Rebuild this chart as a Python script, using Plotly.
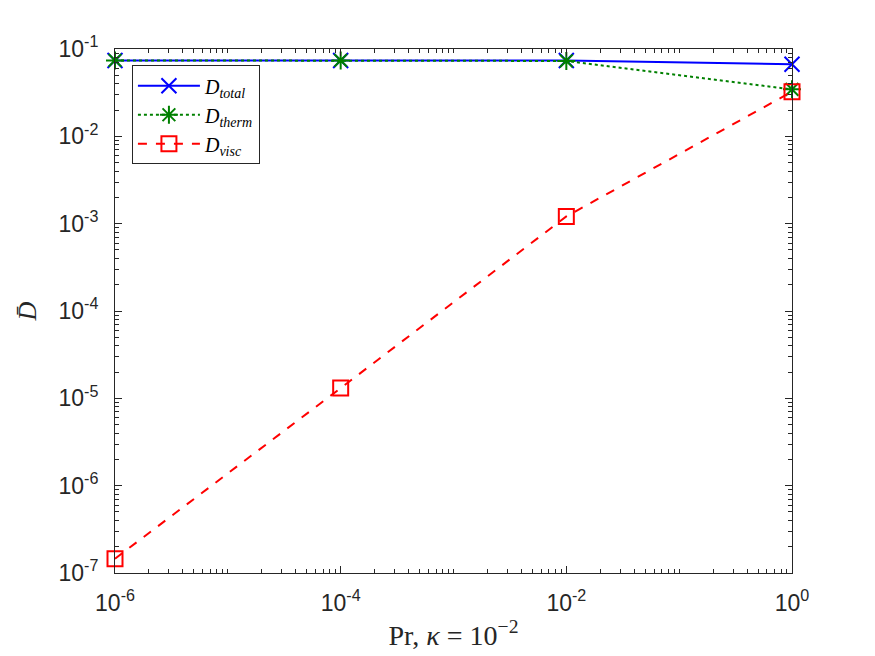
import plotly.graph_objects as go

# Pr values (kappa = 1e-2)
pr = [1e-6, 1e-4, 1e-2, 1e0]

# dissipation
d_total = [0.074, 0.074, 0.074, 0.067]
d_therm = [0.074, 0.074, 0.073, 0.0345]
d_visc = [1.46e-7, 1.31e-5, 1.21e-3, 0.0325]

x_major = [1e-6, 1e-4, 1e-2, 1e0]
x_major_text = ['10<sup>-6</sup>', '10<sup>-4</sup>', '10<sup>-2</sup>', '10<sup>0</sup>']
y_major = [1e-7, 1e-6, 1e-5, 1e-4, 1e-3, 1e-2, 1e-1]
y_major_text = ['10<sup>-7</sup>', '10<sup>-6</sup>', '10<sup>-5</sup>', '10<sup>-4</sup>',
                '10<sup>-3</sup>', '10<sup>-2</sup>', '10<sup>-1</sup>']

AX = '#262626'
SERIF = 'Liberation Serif, Times New Roman, serif'
SANS = 'Liberation Sans, Arial, sans-serif'


def minor_vals(lo, hi, skip):
    # every 1..9 x 10^e between the decades, minus the labelled ones
    vals = []
    for e in range(lo, hi):
        for m in range(1, 10):
            v = m * 10.0 ** e
            if not any(abs(v - s) / s < 1e-9 for s in skip):
                vals.append(v)
    return vals


fig = go.Figure()

fig.add_trace(go.Scatter(
    x=pr, y=d_total, mode='lines+markers', name='<i>D</i><sub><i>total</i></sub>',
    line=dict(color='#0000ff', width=2),
    marker=dict(symbol='x-thin-open', size=15, line=dict(color='#0000ff', width=2)),
    cliponaxis=False,
))
fig.add_trace(go.Scatter(
    x=pr, y=d_therm, mode='lines+markers', name='<i>D</i><sub><i>therm</i></sub>',
    line=dict(color='#008000', width=2, dash='dot'),
    marker=dict(symbol='asterisk-open', size=15, line=dict(color='#008000', width=2)),
    cliponaxis=False,
))
fig.add_trace(go.Scatter(
    x=pr, y=d_visc, mode='lines+markers', name='<i>D</i><sub><i>visc</i></sub>',
    line=dict(color='#ff0000', width=2, dash='dash'),
    marker=dict(symbol='square-open', size=15, line=dict(color='#ff0000', width=2)),
    cliponaxis=False,
))

axis_common = dict(
    type='log', showgrid=False, zeroline=False, automargin=False,
    showline=True, linecolor=AX, linewidth=1, mirror='ticks',
    ticks='inside', ticklen=7, tickwidth=1, tickcolor=AX,
    tickfont=dict(family=SANS, size=23, color=AX),
)

fig.update_xaxes(
    **axis_common,
    range=[-6, 0],
    tickmode='array', tickvals=x_major, ticktext=x_major_text,
    minor=dict(tickmode='array', tickvals=minor_vals(-6, 0, x_major),
               ticks='inside', ticklen=4, tickcolor=AX),
    ticklabelstandoff=9,
    title=dict(text='Pr, <i>κ</i> = 10<sup>−2</sup>', font=dict(family=SERIF, size=28, color=AX), standoff=10),
)
fig.update_yaxes(
    **axis_common,
    range=[-7, -1],
    tickmode='array', tickvals=y_major, ticktext=y_major_text,
    minor=dict(tickmode='array', tickvals=minor_vals(-7, -1, y_major),
               ticks='inside', ticklen=4, tickcolor=AX),
    ticklabelstandoff=11,
    title=dict(text='<i>D̄</i>', font=dict(family=SERIF, size=26, color=AX), standoff=14),
)

fig.update_layout(
    width=875, height=656,
    margin=dict(l=115, r=83, t=49, b=83),
    paper_bgcolor='white', plot_bgcolor='white',
    showlegend=True,
    legend=dict(
        x=0.025, y=0.969, xanchor='left', yanchor='top',
        bgcolor='white', bordercolor=AX, borderwidth=1,
        font=dict(family=SERIF, size=20, color='black'),
        itemwidth=62, tracegroupgap=0,
    ),
)

# page body has an 8px default margin; drop it so the figure sits at 0,0
fig.write_html('out.html', config={'displayModeBar': False},
               post_script="document.body.style.margin='0';")
